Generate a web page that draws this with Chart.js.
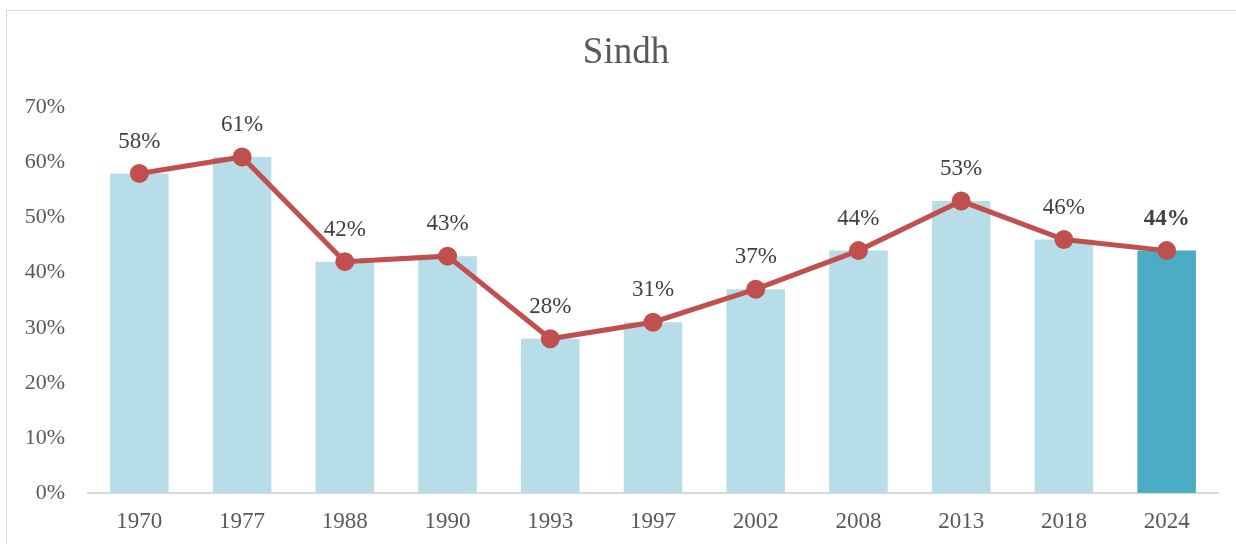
<!DOCTYPE html>
<html>
<head>
<meta charset="utf-8">
<script src="https://cdn.jsdelivr.net/npm/chart.js@4/dist/chart.umd.min.js"></script>
<style>
  html, body { margin: 0; padding: 0; background: #fff; }
  #wrap { position: relative; width: 1236px; height: 544px; overflow: hidden; }
  #frame {
    position: absolute; left: 6px; top: 10px; width: 1300px; height: 600px;
    border-left: 1px solid #d9d9d9; border-top: 1px solid #d9d9d9;
    pointer-events: none;
  }
</style>
</head>
<body>
<div id="wrap">
  <canvas id="sindhChart" width="1236" height="544"></canvas>
  <div id="frame"></div>
</div>
<script>
const chartTitle = 'Sindh'
const years = ['1970','1977','1988','1990','1993','1997','2002','2008','2013','2018','2024']
const turnout = [58, 61, 42, 43, 28, 31, 37, 44, 53, 46, 44]
const yTicks = [0, 10, 20, 30, 40, 50, 60, 70]

const serif = '"Liberation Serif", "Times New Roman", serif'

const barColors = years.map((y, i) =>
  i === years.length - 1 ? '#4bacc6' : '#b7dde8'
)

// labels above each point of the line, plus the title
// (the title sits a little right of the canvas centre, over the plot)
const pointLabels = {
  id: 'pointLabels',
  afterDatasetsDraw(chart) {
    const meta = chart.getDatasetMeta(1)
    const ctx = chart.ctx
    ctx.save()
    ctx.textAlign = 'center'
    ctx.textBaseline = 'middle'
    ctx.fillStyle = '#404040'
    meta.data.forEach((pt, i) => {
      const last = i === turnout.length - 1
      ctx.font = (last ? 'bold ' : '') + '23px ' + serif
      ctx.fillText(turnout[i] + '%', pt.x, pt.y - 32)
    })
    ctx.fillStyle = '#595959'
    ctx.font = '37px ' + serif
    ctx.fillText(chartTitle, 626, 53)
    ctx.restore()
  }
}

new Chart(document.getElementById('sindhChart'), {
  type: 'bar',
  data: {
    labels: years,
    datasets: [
      {
        type: 'bar',
        data: turnout,
        backgroundColor: barColors,
        barPercentage: 0.57,
        categoryPercentage: 1.0,
        order: 2
      },
      {
        type: 'line',
        data: turnout,
        borderColor: '#c0504d',
        backgroundColor: '#c0504d',
        borderWidth: 5,
        pointRadius: 7,
        pointHoverRadius: 7,
        tension: 0,
        order: 1
      }
    ]
  },
  plugins: [pointLabels],
  options: {
    responsive: false,
    animation: false,
    layout: { padding: { top: 0, right: 18, bottom: 0, left: 0 } },
    plugins: {
      legend: { display: false },
      tooltip: { enabled: false },
      title: {
        // keeps the space; the visible title is drawn by the plugin
        display: true,
        text: chartTitle,
        color: 'rgba(0,0,0,0)',
        font: { family: serif, size: 37, weight: 'normal' },
        padding: { top: 33, bottom: 30 }
      }
    },
    scales: {
      x: {
        afterFit(scale) { scale.height = 51 },
        grid: { display: false, drawTicks: false },
        border: { display: true, color: '#d9d9d9', width: 2 },
        ticks: {
          color: '#595959',
          font: { family: serif, size: 23 },
          padding: 15,
          maxRotation: 0
        }
      },
      y: {
        min: 0,
        max: 70,
        afterFit(scale) { scale.width = 88 },
        afterBuildTicks(scale) {
          scale.ticks = yTicks.map(v => ({ value: v }))
        },
        grid: { display: false, drawTicks: false },
        border: { display: false },
        ticks: {
          color: '#595959',
          font: { family: serif, size: 22 },
          padding: 23,
          callback: v => v + '%'
        }
      }
    }
  }
})
</script>
</body>
</html>
